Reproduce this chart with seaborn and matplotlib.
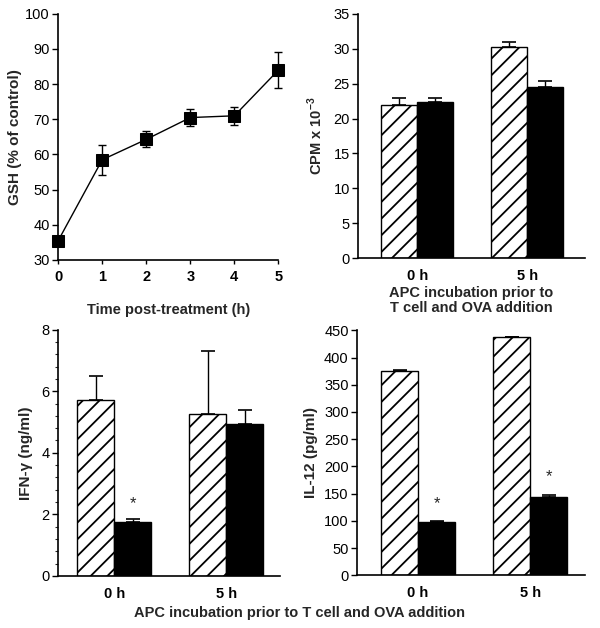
import numpy as np
import pandas as pd
import seaborn as sns
import matplotlib
matplotlib.use('Agg')
import matplotlib.pyplot as plt
from matplotlib.ticker import MultipleLocator

# ---------------------------------------------------------------
# data
# ---------------------------------------------------------------
hours = [0, 1, 2, 3, 4, 5]
gsh = [35.5, 58.5, 64.3, 70.5, 71.0, 84.0]
gsh_err = [0.8, 4.3, 2.3, 2.3, 2.5, 5.2]

times = ['0 h', '5 h']
groups = ['untreated', 'treated']

cpm_untreated = [22.0, 30.2]
cpm_treated = [22.4, 24.5]
cpm_err_untreated = [1.0, 0.8]
cpm_err_treated = [0.5, 0.9]

ifn_untreated = [5.7, 5.25]
ifn_treated = [1.75, 4.95]
ifn_err_untreated = [0.8, 2.05]
ifn_err_treated = [0.1, 0.43]

il12_untreated = [375.0, 437.0]
il12_treated = [97.0, 143.0]
il12_err_untreated = [2.0, 1.5]
il12_err_treated = [3.0, 5.0]

sns.set_style('ticks')
plt.rcParams['font.family'] = ['Liberation Sans', 'DejaVu Sans']
plt.rcParams['mathtext.fontset'] = 'custom'
plt.rcParams['mathtext.rm'] = 'Liberation Sans:bold'
plt.rcParams['mathtext.bf'] = 'Liberation Sans:bold'
plt.rcParams['hatch.linewidth'] = 1.3
plt.rcParams['xtick.direction'] = 'out'
plt.rcParams['ytick.direction'] = 'out'

fig = plt.figure(figsize=(6, 6.28), dpi=100)


def style_axis(ax):
    sns.despine(ax=ax)
    for s in ['left', 'bottom']:
        ax.spines[s].set_linewidth(1.2)
        ax.spines[s].set_color('black')
    ax.tick_params(axis='y', length=4, width=1, labelsize=10.5, pad=2, colors='black')
    ax.tick_params(axis='x', length=0, labelsize=10.5, pad=8, colors='black')
    for lab in ax.get_xticklabels():
        lab.set_fontweight('bold')


def bar_panel(ax, untreated, treated, err_u, err_t, xlim):
    df = pd.DataFrame({
        'time': times * 2,
        'group': [groups[0]] * 2 + [groups[1]] * 2,
        'value': untreated + treated,
    })
    sns.barplot(data=df, x='time', y='value', hue='group', hue_order=groups,
                palette={'untreated': 'white', 'treated': 'black'},
                edgecolor='black', linewidth=1.0, width=0.66, gap=0,
                errorbar=None, legend=False, ax=ax)
    for bar in ax.containers[0]:
        bar.set_hatch('//')
    for cont, errs in zip(ax.containers, [err_u, err_t]):
        for bar, e in zip(cont, errs):
            x = bar.get_x() + bar.get_width() / 2
            h = bar.get_height()
            ax.errorbar(x, h, yerr=[[0], [e]], fmt='none', ecolor='black',
                        elinewidth=1.0, capsize=5, capthick=1.2, zorder=3)
    ax.set_xlim(*xlim)
    ax.set_xlabel('')
    style_axis(ax)


# ---------------------------------------------------------------
# A: GSH time course
# ---------------------------------------------------------------
ax1 = fig.add_axes([0.097, 0.586, 0.367, 0.392])
ax1.errorbar(hours, gsh, yerr=gsh_err, fmt='none', ecolor='black',
             elinewidth=1.0, capsize=3, capthick=1.0, zorder=2, clip_on=False)
sns.lineplot(x=hours, y=gsh, marker='s', markersize=8.5, color='black',
             linewidth=1.0, markeredgecolor='black', ax=ax1, clip_on=False, zorder=3)
ax1.set_xlim(0, 5)
ax1.set_ylim(30, 100)
ax1.yaxis.set_major_locator(MultipleLocator(10))
ax1.set_xticks(hours)
style_axis(ax1)
ax1.tick_params(axis='x', length=3, width=1, pad=4)
ax1.set_xlabel('Time post-treatment (h)', fontsize=10.5, fontweight='bold', labelpad=14)
ax1.set_ylabel('GSH (% of control)', fontsize=11, fontweight='bold', labelpad=2)

# ---------------------------------------------------------------
# B: proliferation
# ---------------------------------------------------------------
ax2 = fig.add_axes([0.597, 0.589, 0.378, 0.389])
bar_panel(ax2, cpm_untreated, cpm_treated, cpm_err_untreated, cpm_err_treated,
          (-0.536, 1.527))
ax2.set_ylim(0, 35)
ax2.yaxis.set_major_locator(MultipleLocator(5))
ax2.set_ylabel('CPM x 10$^{-3}$', fontsize=10.5, fontweight='bold', labelpad=6)
ax2.set_xlabel('APC incubation prior to\nT cell and OVA addition',
               fontsize=10.5, fontweight='bold', labelpad=2, linespacing=1.1)

# ---------------------------------------------------------------
# C: IFN-gamma
# ---------------------------------------------------------------
ax3 = fig.add_axes([0.097, 0.083, 0.370, 0.392])
bar_panel(ax3, ifn_untreated, ifn_treated, ifn_err_untreated, ifn_err_treated,
          (-0.5, 1.48))
ax3.set_ylim(0, 8)
ax3.yaxis.set_major_locator(MultipleLocator(2))
ax3.yaxis.set_minor_locator(MultipleLocator(0.4))
ax3.tick_params(axis='y', which='minor', length=2.5, width=0.8)
ax3.set_ylabel('IFN-γ (ng/ml)', fontsize=11, fontweight='bold', labelpad=6)
bar = ax3.containers[1][0]
ax3.text(bar.get_x() + bar.get_width() / 2, 2.1, '*', ha='center', va='bottom', fontsize=12)

# ---------------------------------------------------------------
# D: IL-12
# ---------------------------------------------------------------
ax4 = fig.add_axes([0.595, 0.084, 0.380, 0.390])
bar_panel(ax4, il12_untreated, il12_treated, il12_err_untreated, il12_err_treated,
          (-0.545, 1.49))
ax4.set_ylim(0, 450)
ax4.yaxis.set_major_locator(MultipleLocator(50))
ax4.set_ylabel('IL-12 (pg/ml)', fontsize=11, fontweight='bold', labelpad=4)
for bar, ystar in zip(ax4.containers[1], [118, 168]):
    ax4.text(bar.get_x() + bar.get_width() / 2, ystar, '*', ha='center', va='bottom', fontsize=12)

fig.text(0.5, 0.024, 'APC incubation prior to T cell and OVA addition',
         ha='center', va='center', fontsize=10.5, fontweight='bold')

fig.savefig('out.png', dpi=100)
